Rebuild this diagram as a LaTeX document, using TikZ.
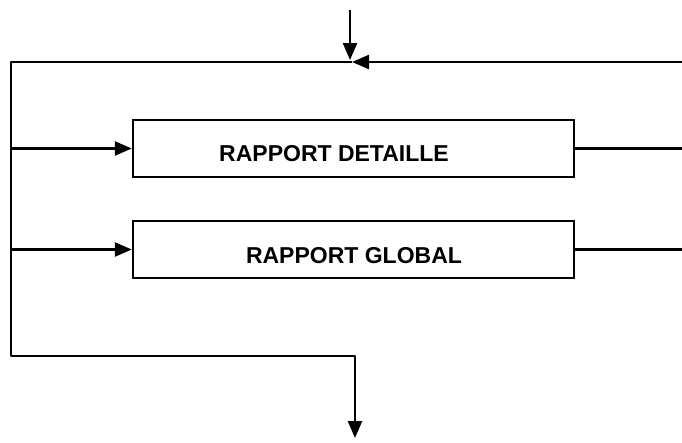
\documentclass[tikz,border=0pt]{standalone}
\usepackage{fontspec}
\setmainfont{Liberation Sans}
\usetikzlibrary{arrows.meta}
\begin{document}
\begin{tikzpicture}[x=1pt,y=-1pt,
  line width=2.4pt,
  arr/.style={-{Triangle[length=17pt,width=14pt]}},
  boxnode/.style={draw,line width=2.4pt,minimum width=441pt,minimum height=57pt,inner sep=0pt},
  lbl/.style={font=\fontsize{23}{27}\selectfont\bfseries,inner sep=0pt}]
\useasboundingbox (0,0) rectangle (682,442);
\coordinate (tin) at (350,10);
\coordinate (tjoin) at (350,62);
\coordinate (rin) at (682,62);
\coordinate (tl) at (11,62);
\coordinate (bl) at (11,356);
\coordinate (bm) at (355,356);
\coordinate (bout) at (355,438);
\coordinate (r1) at (682,148.5);
\coordinate (r2) at (682,249.5);
\node[boxnode] (b1) at (353.5,148.5) {};
\node[boxnode] (b2) at (353.5,249.5) {};
\node[lbl] (t1) at (334,154) {RAPPORT DETAILLE};
\node[lbl] (t2) at (354,256) {RAPPORT GLOBAL};
\draw[arr] (tin) -- (350,60);
\draw[arr] (rin) -- (352,62);
\draw[line join=round] (352,62) -- (tl) -- (bl) -- (bm) -- (355,400);
\draw[arr] (bm) -- (bout);
\draw[arr] (11,148.5) -- (b1.west);
\draw[arr] (11,249.5) -- (b2.west);
\draw (b1.east) -- (r1);
\draw (b2.east) -- (r2);
\end{tikzpicture}
\end{document}
